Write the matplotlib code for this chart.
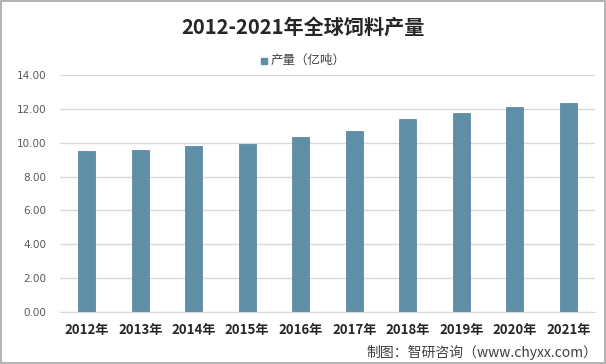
import matplotlib.pyplot as plt
from matplotlib.patches import Rectangle

plt.rcParams['font.family'] = ['Noto Sans CJK SC', 'DejaVu Sans']

years = ['2012年', '2013年', '2014年', '2015年', '2016年',
         '2017年', '2018年', '2019年', '2020年', '2021年']
output = [9.52, 9.57, 9.8, 9.92, 10.33, 10.68, 11.39, 11.74, 12.1, 12.33]
yticks = [0, 2, 4, 6, 8, 10, 12, 14]

bar_color = '#5E8FA6'

fig = plt.figure(figsize=(6.06, 3.64), dpi=100)
ax = fig.add_axes([60 / 606, 1 - 312.3 / 364, 535 / 606, 237.6 / 364])

x = range(len(years))
ax.bar(x, output, width=0.32, color=bar_color, edgecolor='#4F7C9A',
       linewidth=0.5, zorder=2, label='产量（亿吨）')

ax.set_ylim(0, 14)
ax.set_xlim(-0.5, len(years) - 0.5)
ax.set_yticks(yticks)
ax.set_yticklabels([f'{v:.2f}' for v in yticks], fontsize=7.5,
                   color='#595959', family=['DejaVu Sans'])
ax.set_xticks(list(x))
ax.set_xticklabels(years, fontsize=9.5, fontweight='bold', color='#262626')
ax.tick_params(axis='both', length=0)
ax.tick_params(axis='y', pad=10)
ax.tick_params(axis='x', pad=8)

ax.grid(axis='y', color='#D9D9D9', linewidth=1, zorder=0)
for side in ['top', 'right', 'left']:
    ax.spines[side].set_visible(False)
ax.spines['bottom'].set_color('#D9D9D9')

# Title and legend
fig.text(0.5, 1 - 27 / 364, '2012-2021年全球饲料产量', ha='center', va='center',
         fontsize=14.5, fontweight='bold', color='#262626')
fig.patches.append(Rectangle((261 / 606, 1 - 64 / 364), 6 / 606, 6 / 364,
                             transform=fig.transFigure, color=bar_color))
fig.text(271 / 606, 1 - 60.5 / 364, '产量（亿吨）', ha='left', va='center',
         fontsize=9, color='#404040')

# Source note
fig.text(597 / 606, 1 - 352 / 364, '制图：智研咨询（www.chyxx.com）',
         ha='right', va='center', fontsize=10, color='#404040')

# Outer border
fig.patches.append(Rectangle((0.001, 0.002), 0.997, 0.995, transform=fig.transFigure,
                             fill=False, edgecolor='#A6A6A6', linewidth=1.2))

fig.savefig('out.png', dpi=100)
